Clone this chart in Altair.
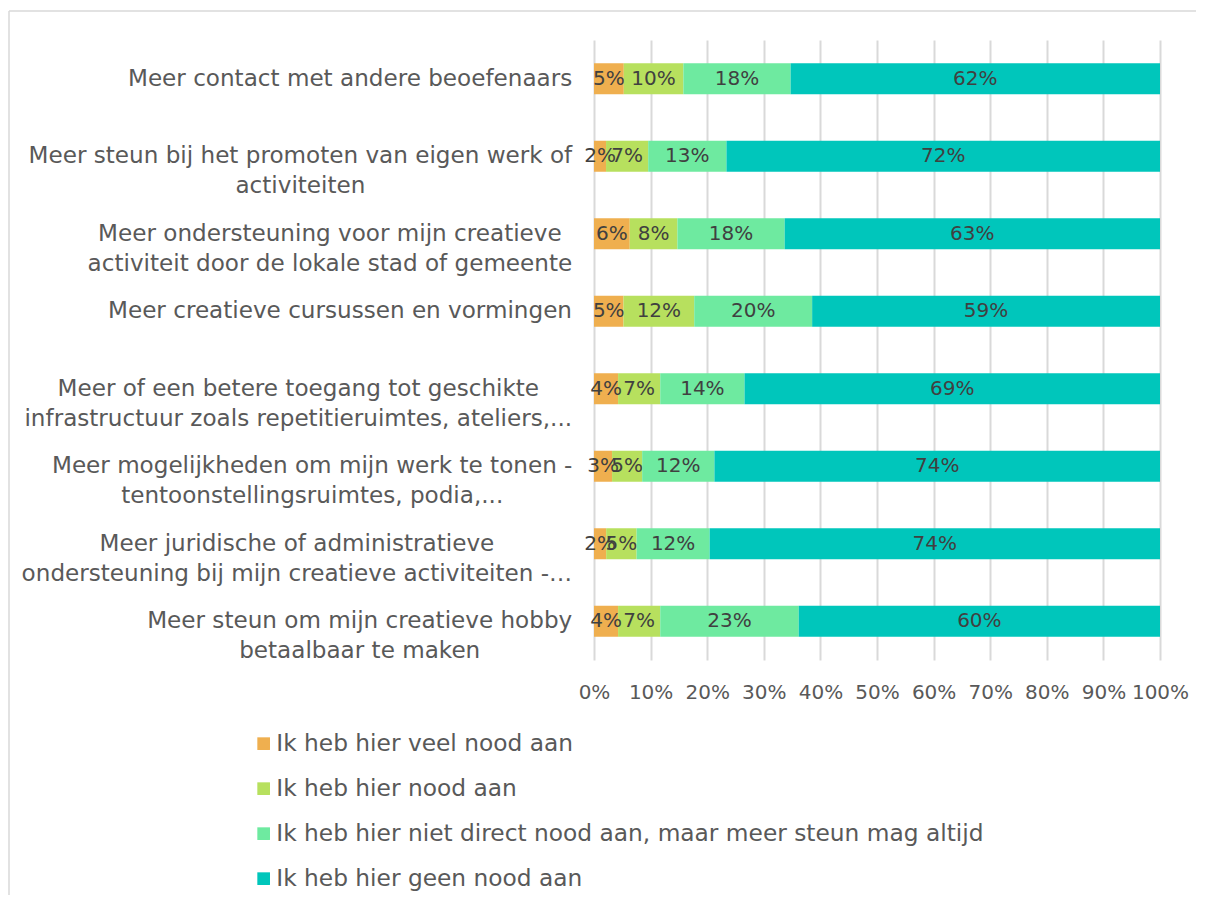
import glob, struct, json
import altair as alt
import pandas as pd

# ---------------- data ----------------
items = [
    "Meer contact met andere beoefenaars",
    "Meer steun bij het promoten van eigen werk of|activiteiten",
    "Meer ondersteuning voor mijn creatieve|activiteit door de lokale stad of gemeente",
    "Meer creatieve cursussen en vormingen",
    "Meer of een betere toegang tot geschikte|infrastructuur zoals repetitieruimtes, ateliers,...",
    "Meer mogelijkheden om mijn werk te tonen -|tentoonstellingsruimtes, podia,...",
    "Meer juridische of administratieve|ondersteuning bij mijn creatieve activiteiten -\u2026",
    "Meer steun om mijn creatieve hobby|betaalbaar te maken",
]
categories = [
    "Ik heb hier veel nood aan",
    "Ik heb hier nood aan",
    "Ik heb hier niet direct nood aan, maar meer steun mag altijd",
    "Ik heb hier geen nood aan",
]
veel_nood = [5, 2, 6, 5, 4, 3, 2, 4]
nood = [10, 7, 8, 12, 7, 5, 5, 7]
niet_direct = [18, 13, 18, 20, 14, 12, 12, 23]
geen_nood = [62, 72, 63, 59, 69, 74, 74, 60]
x_ticks = [0, 0.1, 0.2, 0.3, 0.4, 0.5, 0.6, 0.7, 0.8, 0.9, 1.0]
colors = ["#EFAF4F", "#B7E05E", "#6EEAA0", "#00C6BB"]

series = [veel_nood, nood, niet_direct, geen_nood]
rows = []
for ci, (cat, vals) in enumerate(zip(categories, series)):
    for item, v in zip(items, vals):
        rows.append({"item": item, "cat": cat, "order": ci, "value": v})
df = pd.DataFrame(rows)

# ---------------- text width measurement (for centred multi-line labels) ----------------
FONT = "DejaVu Sans"


def make_measure():
    paths = glob.glob("/usr/share/fonts/**/DejaVuSans.ttf", recursive=True)
    if not paths:
        return lambda s, size: len(s) * 0.6 * size
    data = open(paths[0], "rb").read()
    num = struct.unpack(">H", data[4:6])[0]
    tables = {}
    for i in range(num):
        off = 12 + 16 * i
        tag = data[off:off + 4].decode("latin-1")
        toff = struct.unpack(">I", data[off + 8:off + 12])[0]
        tables[tag] = toff
    upem = struct.unpack(">H", data[tables["head"] + 18:tables["head"] + 20])[0]
    nhm = struct.unpack(">H", data[tables["hhea"] + 34:tables["hhea"] + 36])[0]
    hm = tables["hmtx"]
    adv = [struct.unpack(">H", data[hm + 4 * i:hm + 4 * i + 2])[0] for i in range(nhm)]
    c = tables["cmap"]
    n = struct.unpack(">H", data[c + 2:c + 4])[0]
    sub = None
    for i in range(n):
        pid, eid, soff = struct.unpack(">HHI", data[c + 4 + 8 * i:c + 12 + 8 * i])
        if pid == 3 and eid == 1:
            sub = c + soff
    segx2 = struct.unpack(">H", data[sub + 6:sub + 8])[0]
    seg = segx2 // 2
    ends = struct.unpack(">%dH" % seg, data[sub + 14:sub + 14 + segx2])
    so = sub + 16 + segx2
    starts = struct.unpack(">%dH" % seg, data[so:so + segx2])
    do = so + segx2
    deltas = struct.unpack(">%dh" % seg, data[do:do + segx2])
    ro = do + segx2
    ros = struct.unpack(">%dH" % seg, data[ro:ro + segx2])

    def gid(ch):
        code = ord(ch)
        for i in range(seg):
            if ends[i] >= code:
                if starts[i] > code:
                    return 0
                if ros[i] == 0:
                    return (code + deltas[i]) & 0xFFFF
                addr = ro + 2 * i + ros[i] + 2 * (code - starts[i])
                g = struct.unpack(">H", data[addr:addr + 2])[0]
                return (g + deltas[i]) & 0xFFFF if g else 0
        return 0

    def width(s, size):
        return sum(adv[min(gid(ch), nhm - 1)] for ch in s) * size / upem

    return width


measure = make_measure()
# reference line widths (px) used to pick a font size that matches the overall text extent
ref_widths = {
    "Meer contact met andere beoefenaars": 464,
    "Meer steun bij het promoten van eigen werk of": 544,
    "infrastructuur zoals repetitieruimtes, ateliers,...": 518,
    "Meer mogelijkheden om mijn werk te tonen -": 531,
    "ondersteuning bij mijn creatieve activiteiten -\u2026": 544,
}
fits = [w / measure(s, 1.0) for s, w in ref_widths.items()]
axis_size = round(sum(fits) / len(fits), 1)
legend_size = round(297 / measure("Ik heb hier veel nood aan", 1.0), 1)
value_size = 20
tick_size = 20

GAP = 22  # distance from axis to right edge of labels
conds = []
for it in items:
    w = max(measure(line, axis_size) for line in it.split("|"))
    conds.append({"test": "datum.value === " + json.dumps(it), "value": round(GAP + w / 2, 1)})

W, H = 566, 620
PAD_L, PAD_T, PAD_R, PAD_B = 586, 32, 36, 235

# ---------------- chart ----------------
base = alt.Chart(df).transform_stack(
    stack="value",
    groupby=["item"],
    as_=["x0", "x1"],
    offset="normalize",
    sort=[alt.SortField("order", order="ascending")],
).transform_calculate(
    mid="(datum.x0 + datum.x1) / 2",
    label="datum.value + '%'",
)

y_enc = alt.Y(
    "item:N",
    sort=items,
    title=None,
    scale=alt.Scale(paddingInner=0.6, paddingOuter=0.3),
    axis=alt.Axis(
        labelExpr="split(datum.label, '|')",
        labelAlign="center",
        labelBaseline="middle",
        labelPadding={"condition": conds, "value": 200},
        labelLineHeight=30,
        labelFont=FONT,
        labelFontSize=axis_size,
        labelColor="#595959",
        labelLimit=0,
        ticks=False,
        tickSize=0,
        domain=False,
        grid=False,
    ),
)

bars = base.mark_bar(strokeWidth=0).encode(
    x=alt.X(
        "x0:Q",
        scale=alt.Scale(domain=[0, 1], nice=False),
        title=None,
        axis=alt.Axis(
            values=x_ticks,
            format=".0%",
            labelFont=FONT,
            labelFontSize=tick_size,
            labelColor="#595959",
            labelPadding=22,
            labelOverlap=False,
            labelFlush=False,
            labelAlign="center",
            ticks=False,
            tickSize=0,
            domain=False,
            grid=True,
            gridColor="#D9D9D9",
            gridWidth=2,
        ),
    ),
    x2="x1:Q",
    y=y_enc,
    color=alt.Color(
        "cat:N",
        scale=alt.Scale(domain=categories, range=colors),
        title=None,
        legend=alt.Legend(
            orient="none",
            legendX=-342,
            legendY=692,
            direction="vertical",
            symbolType="square",
            symbolSize=160,
            symbolStrokeWidth=0,
            labelFont=FONT,
            labelFontSize=legend_size,
            labelColor="#595959",
            labelOffset=1,
            labelLimit=0,
            rowPadding=21,
            padding=0,
        ),
    ),
)

texts = base.mark_text(font=FONT, fontSize=value_size, color="#404040", baseline="middle", align="center").encode(
    x="mid:Q",
    y=alt.Y("item:N", sort=items),
    text="label:N",
)

frame_df = pd.DataFrame({"k": [0]})
frame_top = alt.Chart(frame_df).mark_rule(color="#D9D9D9", strokeWidth=1.5).encode(
    x=alt.value(-PAD_L + 1), x2=alt.value(W + PAD_R + 5), y=alt.value(-PAD_T + 3)
)
frame_left = alt.Chart(frame_df).mark_rule(color="#D9D9D9", strokeWidth=1.5).encode(
    x=alt.value(-PAD_L + 1), y=alt.value(-PAD_T + 3), y2=alt.value(H + PAD_B + 5)
)

chart = alt.layer(bars, texts, frame_top, frame_left).properties(
    width=W,
    height=H,
    padding={"left": PAD_L, "top": PAD_T, "right": PAD_R, "bottom": PAD_B},
    autosize=alt.AutoSizeParams(type="none"),
    background="white",
).configure_view(stroke=None)

chart.save("out.html", embed_options={"renderer": "svg", "actions": False})
